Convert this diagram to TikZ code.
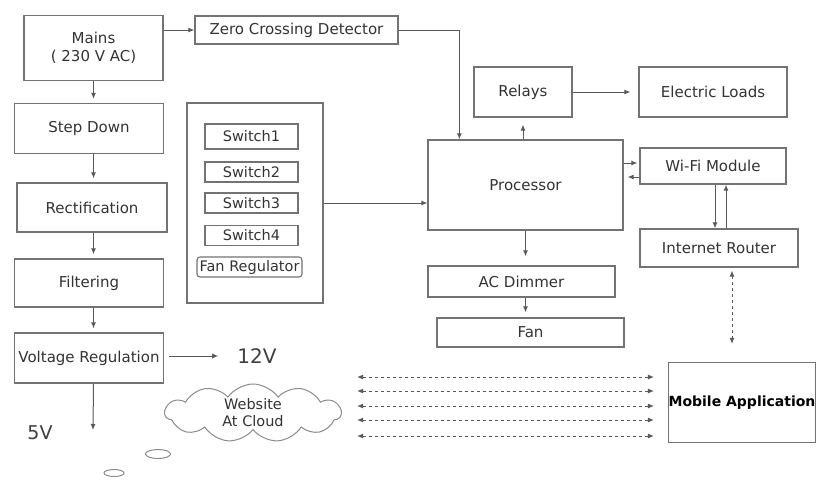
\documentclass[tikz,border=0pt]{standalone}
\usepackage{fontspec}
\setmainfont{DejaVu Sans}
\usetikzlibrary{arrows.meta,shapes.symbols}

\begin{document}
\begin{tikzpicture}[
  x=1pt,y=-1pt,
  bnode/.style={draw=black!55,line width=1.3pt,rectangle,inner sep=0pt,align=center,
    text=black!80,font=\fontsize{15}{18}\selectfont},
  snode/.style={draw=black!55,line width=1.1pt,rectangle,inner sep=0pt,
    text=black!80,font=\fontsize{14.5}{17}\selectfont},
  vnode/.style={inner sep=0pt,text=black!75,font=\fontsize{20}{22}\selectfont},
  wire/.style={draw=black!65,line width=1pt}
]
  \fill[white] (0,0) rectangle (821,490);
  \useasboundingbox (0,0) rectangle (821,490);

  % power supply
  \node[bnode,minimum width=139pt,minimum height=65pt] (mains) at (93.5,48) {Mains\\( 230 V AC)};
  \node[bnode,minimum width=149pt,minimum height=50pt] (stepdown) at (89,128.5) {Step Down};
  \node[bnode,minimum width=150pt,minimum height=49pt] (rectif) at (92,207.5) {Rectification};
  \node[bnode,minimum width=149pt,minimum height=48pt] (filter) at (89,283) {Filtering};
  \node[bnode,minimum width=149pt,minimum height=50pt] (voltreg) at (89,358) {Voltage Regulation};
  \node[vnode] (v12) at (257,356) {12V};
  \node[vnode,font=\fontsize{19}{21}\selectfont] (v5) at (40,433) {5V};
  \coordinate (v5tip) at (93,430);

  % switch panel
  \node[bnode,minimum width=136pt,minimum height=200pt] (panel) at (255,203) {};
  \node[snode,minimum width=93pt,minimum height=25pt] (sw1) at (251.5,136.5) {Switch1};
  \node[snode,minimum width=93pt,minimum height=20pt] (sw2) at (251.5,172) {Switch2};
  \node[snode,minimum width=93pt,minimum height=20pt] (sw3) at (251.5,203) {Switch3};
  \node[snode,minimum width=93pt,minimum height=20pt] (sw4) at (251.5,235.5) {Switch4};
  \node[snode,rounded corners=3pt,minimum width=105pt,minimum height=20pt] (fanreg) at (249.5,267) {Fan Regulator};

  % control blocks
  \node[bnode,minimum width=203pt,minimum height=28pt] (zcd) at (296.5,30) {Zero Crossing Detector};
  \node[bnode,minimum width=195pt,minimum height=90pt] (proc) at (525.5,185) {Processor};
  \node[bnode,minimum width=98pt,minimum height=50pt] (relays) at (523,92) {Relays};
  \node[bnode,minimum width=148pt,minimum height=50pt] (loads) at (713,92) {Electric Loads};
  \node[bnode,minimum width=146pt,minimum height=36pt] (wifi) at (713,166) {Wi-Fi Module};
  \node[bnode,minimum width=158pt,minimum height=38pt] (router) at (719,248) {Internet Router};
  \node[bnode,minimum width=187pt,minimum height=31pt] (dimmer) at (521.5,281.5) {AC Dimmer};
  \node[bnode,minimum width=187pt,minimum height=29pt] (fan) at (530.5,332.5) {Fan};
  \node[bnode,minimum width=146pt,minimum height=80pt,text=black,
    font=\bfseries\fontsize{14}{17}\selectfont] (mobile) at (742,402.5) {Mobile Application};
  \node[draw=black!45,line width=1pt,cloud,cloud puffs=11,cloud puff arc=110,aspect=3,
    minimum width=176pt,minimum height=58pt,inner sep=0pt,align=center,
    text=black!80,font=\fontsize{14.5}{17}\selectfont] (cloud) at (253,413) {Website\\At Cloud};

  % thought bubbles
  \draw[black!45,line width=1pt] (158,454) ellipse [x radius=12.5pt,y radius=4.5pt];
  \draw[black!45,line width=1pt] (114,473) ellipse [x radius=10pt,y radius=3.5pt];

  % helper points
  \coordinate (zpin) at ([xshift=32pt]proc.north west);
  \coordinate (w1) at ([yshift=3pt]wifi.west);
  \coordinate (w2) at ([yshift=-11pt]wifi.west);
  \coordinate (r1) at ([xshift=-4pt]router.north);
  \coordinate (r2) at ([xshift=7pt]router.north);
  \coordinate (r3) at ([xshift=13pt]router.south);

  % power edges
  \foreach \a/\b in {mains/stepdown,stepdown/rectif,rectif/filter,filter/voltreg}
    \draw[wire,-{Latex[length=6pt,width=5pt]},shorten >=4pt] (mains.south |- \a.south) -- (mains.south |- \b.north);
  \draw[wire,-{Latex[length=6pt,width=5pt]},shorten <=5pt,shorten >=19pt] (voltreg.east |- v12) -- (v12.west);
  \draw[wire,-{Latex[length=6pt,width=5pt]}] (mains.south |- voltreg.south) -- (v5tip);

  % control edges
  \draw[wire,-{Latex[length=6pt,width=5pt]}] (mains.east |- zcd.west) -- (zcd.west);
  \draw[wire,-{Latex[length=6pt,width=5pt]}] (zcd.east) -| (zpin);
  \draw[wire,-{Latex[length=6pt,width=5pt]}] (panel.east |- sw3) -- (proc.west |- sw3);
  \draw[wire,-{Latex[length=6pt,width=5pt]},shorten >=7pt] (relays.south |- proc.north) -- (relays.south);
  \draw[wire,-{Latex[length=6pt,width=5pt]},shorten >=8pt] (relays.east) -- (loads.west);
  \draw[wire,-{Latex[length=6pt,width=5pt]},shorten >=2pt] (w1 -| proc.east) -- (w1);
  \draw[wire,-{Latex[length=6pt,width=5pt]},shorten >=4pt] (w2) -- (w2 -| proc.east);
  \draw[wire,-{Latex[length=6pt,width=5pt]}] (r1 |- wifi.south) -- (r1);
  \draw[wire,-{Latex[length=6pt,width=5pt]}] (r2) -- (r2 |- wifi.south);
  \draw[wire,-{Latex[length=6pt,width=5pt]},shorten >=9pt] (proc.south) -- (proc.south |- dimmer.north);
  \draw[wire,-{Latex[length=6pt,width=5pt]},shorten >=5pt] (proc.south |- dimmer.south) -- (proc.south |- fan.north);

  % wireless links
  \draw[wire,dashed,line width=0.9pt,{Latex[length=6pt,width=5pt]}-{Latex[length=6pt,width=5pt]},
    shorten <=3pt,shorten >=18pt] (r3) -- (r3 |- mobile.north);
  \foreach \y in {377,391,406,420,436}
    \draw[wire,dashed,line width=0.9pt,{Latex[length=6pt,width=5pt]}-{Latex[length=6pt,width=5pt]},
      shorten <=15pt,shorten >=14pt] (cloud.east |- 0,\y) -- (mobile.west |- 0,\y);

\end{tikzpicture}
\end{document}
